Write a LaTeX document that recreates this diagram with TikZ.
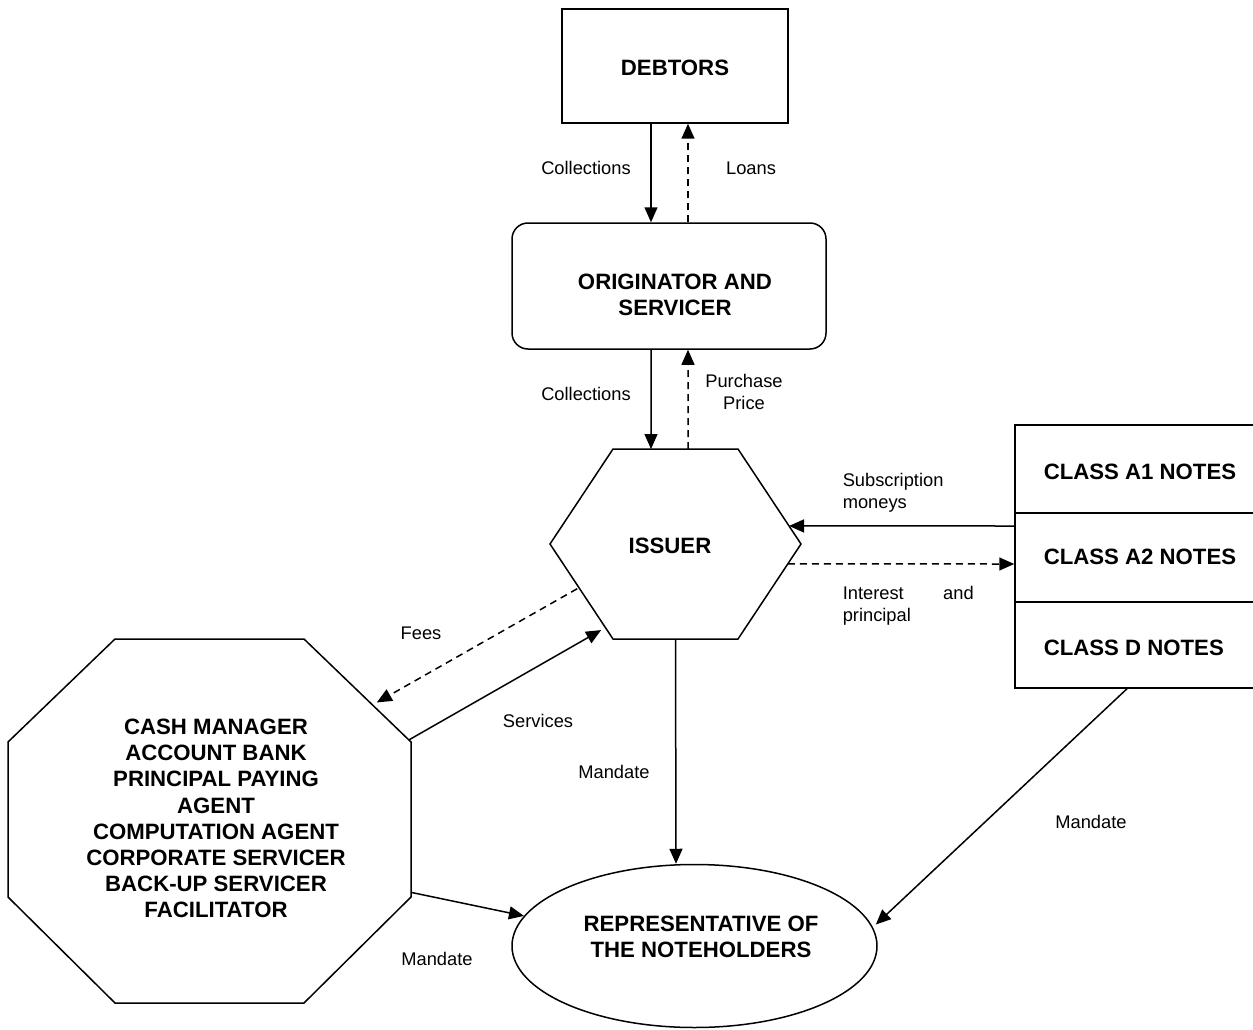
\documentclass[tikz,border=0pt]{standalone}
\usepackage{fontspec}
\setmainfont{Liberation Sans}
\usetikzlibrary{arrows.meta,shapes.geometric,calc}
\begin{document}
\begin{tikzpicture}[x=1pt,y=-1pt,
  line width=1.5pt,
  tip/.style={-{Triangle[length=15pt,width=13pt]}},
  dsh/.style={dash pattern=on 7pt off 5pt},
  lbl/.style={font=\fontsize{18.3}{21.5}\selectfont, inner sep=0pt, align=center},
  bold/.style={font=\bfseries\fontsize{22.2}{26.2}\selectfont, inner sep=0pt, align=center},
  box/.style={draw, inner sep=0pt}]
\useasboundingbox (0,0) rectangle (1253,1030);

% Debtors
\node[box, minimum width=226pt, minimum height=114pt] (debtors) at (675,66) {};
\node[bold] (debtxt) at (675,68) {DEBTORS};

% Originator
\node[box, rounded corners=16pt, minimum width=314pt, minimum height=126pt] (orig) at (669,286) {};
\node[bold] (origtxt) at (675,295) {ORIGINATOR AND\\SERVICER};

% Issuer hexagon
\path (550,544) coordinate (hxL) (613,449) coordinate (hxTL) (738,449) coordinate (hxTR)
      (801,544) coordinate (hxR) (738,639) coordinate (hxBR) (613,639) coordinate (hxBL);
\draw (hxL)--(hxTL)--(hxTR)--(hxR)--(hxBR)--(hxBL)--cycle;
\node[bold] (issuer) at (670,546) {ISSUER};

% Notes
\node[box, minimum width=240pt, minimum height=88pt] (nA1) at (1135,469) {};
\node[box, minimum width=240pt, minimum height=89pt] (nA2) at (1135,557.5) {};
\node[box, minimum width=240pt, minimum height=86pt] (nD) at (1135,645) {};
\node[bold, anchor=west] (tA1) at (1043,471.5) {CLASS A1 NOTES};
\node[bold, anchor=west] (tA2) at (1043,556.5) {CLASS A2 NOTES};
\node[bold, anchor=west] (tD) at (1043,647.5) {CLASS D NOTES};

% Octagon
\path (115,639) coordinate (oT1) (304,639) coordinate (oT2) (411,742) coordinate (oR1)
      (411,897) coordinate (oR2) (304,1003) coordinate (oB2) (115,1003) coordinate (oB1)
      (8,897) coordinate (oL2) (8,742) coordinate (oL1);
\draw (oT1)--(oT2)--(oR1)--(oR2)--(oB2)--(oB1)--(oL2)--(oL1)--cycle;
\node[bold] (octtxt) at (216,818.5) {CASH MANAGER\\ACCOUNT BANK\\PRINCIPAL PAYING\\AGENT\\COMPUTATION AGENT\\CORPORATE SERVICER\\BACK-UP SERVICER\\FACILITATOR};

% Representative ellipse
\node[draw, ellipse, minimum width=365pt, minimum height=163pt, inner sep=0pt] (ell) at (694.5,946) {};
\node[bold] (elltxt) at (701,936.5) {REPRESENTATIVE OF\\THE NOTEHOLDERS};

% Connectors
\draw[tip] ([xshift=-24pt]debtors.south) -- ([xshift=-18pt]orig.north);
\draw[tip,dsh] ([xshift=19pt]orig.north) -- ([xshift=13pt]debtors.south);
\draw[tip] ([xshift=-18pt]orig.south) -- ($(hxTL)!0.304!(hxTR)$);
\draw[tip,dsh] ($(hxTL)!0.6!(hxTR)$) -- ([xshift=19pt]orig.south);
\draw[tip] ([yshift=31.5pt]nA2.west) -- ($(hxTR)!0.81!(hxR)$);
\draw[tip,dsh] ($(hxR)!0.21!(hxBR)$) -- ([yshift=-6.5pt]nA2.west);
\draw[tip,dsh,shorten <=2pt,shorten >=5pt] ($(hxL)!0.46!(hxBL)$) -- ($(oT2)!0.64!(oR1)$);
\draw[tip,shorten >=5pt] ($(oT2)!0.98!(oR1)$) -- ($(hxL)!0.88!(hxBL)$);
\draw[tip] ($(hxBL)!0.5!(hxBR)$) -- ([xshift=-18.5pt]ell.north);
\draw[tip] ($(oR1)!0.97!(oR2)$) -- (ell.170.7);
\draw[tip,shorten >=4pt] ([xshift=-8pt]nD.south) -- (ell.6.5);

% Labels
\node[lbl] (lcol1) at (586,168) {Collections};
\node[lbl] (lloans) at (751,168) {Loans};
\node[lbl] (lcol2) at (586,394) {Collections};
\node[lbl] (lpp) at (744,392) {Purchase\\Price};
\node[lbl, align=left, anchor=west] (lsub) at (842,493) {Subscription\\moneys};
\node[lbl, align=left, anchor=west] (lint) at (842,606) {\makebox[131pt][s]{Interest and}\\principal};
\node[lbl] (lfees) at (421,633) {Fees};
\node[lbl] (lserv) at (538,721) {Services};
\node[lbl] (lman1) at (614,772) {Mandate};
\node[lbl] (lman2) at (1091,822) {Mandate};
\node[lbl] (lman3) at (437,959) {Mandate};
\end{tikzpicture}
\end{document}
